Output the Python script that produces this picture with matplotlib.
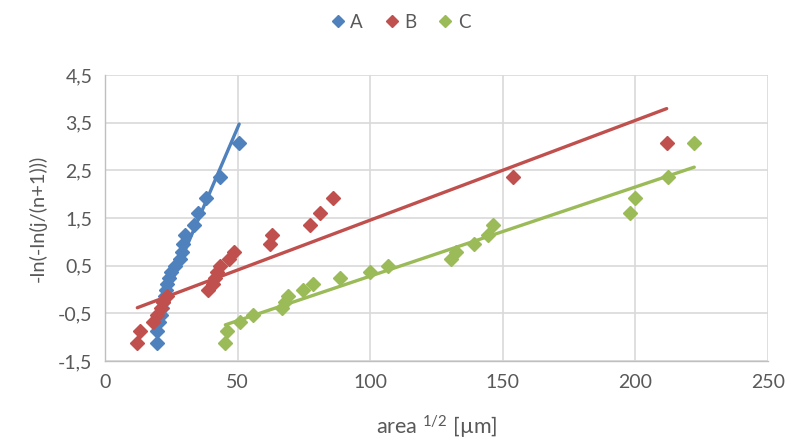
import matplotlib.pyplot as plt
import numpy as np

plt.rcParams["font.family"] = ["Lato", "DejaVu Sans"]
plt.rcParams["mathtext.fontset"] = "custom"
plt.rcParams["mathtext.rm"] = "Lato"
plt.rcParams["mathtext.it"] = "Lato"

# reduced variate -ln(-ln(j/(n+1))), same for all three series
y_vals = [-1.13, -0.87, -0.69, -0.53, -0.39, -0.26, -0.14, -0.01, 0.11, 0.24, 0.37,
          0.50, 0.64, 0.79, 0.96, 1.14, 1.36, 1.61, 1.92, 2.35, 3.07]

a_x = [19.5, 19.7, 20.3, 21.0, 21.5, 22.0, 22.5, 23.0, 23.5, 24.0, 25.0,
       26.5, 28.3, 29.0, 29.5, 30.3, 33.5, 35.0, 38.0, 43.3, 50.6]
b_x = [12.2, 13.2, 18.0, 19.8, 21.2, 22.0, 23.3, 39.0, 40.9, 41.5, 42.1,
       43.4, 46.8, 48.6, 62.2, 63.0, 77.3, 81.1, 86.1, 153.7, 211.8]
c_x = [45.4, 45.9, 50.9, 55.9, 66.6, 67.9, 69.1, 74.8, 78.5, 88.6, 100.0,
       106.8, 130.5, 132.5, 139.0, 144.4, 146.3, 198.0, 199.9, 212.2, 222.2]

series = [("A", a_x, "#4F81BD"), ("B", b_x, "#C0504D"), ("C", c_x, "#9BBB59")]

fig = plt.figure(figsize=(7.88, 4.44), dpi=100)
ax = fig.add_axes([0.1332, 0.1869, 0.8414, 0.6442])

y = np.array(y_vals)
for name, xs, color in series:
    xs = np.array(xs)
    ax.plot(xs, y, linestyle="none", marker="D", markersize=7.5, color=color,
            label=name, zorder=3)
    k, b = np.polyfit(xs, y, 1)
    xl = np.array([xs.min(), xs.max()])
    ax.plot(xl, k * xl + b, color=color, linewidth=2.4, zorder=2,
            solid_capstyle="round")

ax.set_xlim(0, 250)
ax.set_ylim(-1.5, 4.5)
ax.set_xticks(np.arange(0, 251, 50))
ax.set_yticks(np.arange(-1.5, 4.51, 1.0))
ax.set_yticklabels([f"{v:.1f}".replace(".", ",") for v in np.arange(-1.5, 4.51, 1.0)])
ax.grid(True, color="#d9d9d9", linewidth=1.2)
ax.set_axisbelow(True)
for s in ["top", "right"]:
    ax.spines[s].set_visible(False)
for s in ["left", "bottom"]:
    ax.spines[s].set_color("#bfbfbf")
    ax.spines[s].set_linewidth(1.0)
ax.tick_params(length=0, labelsize=14, colors="#595959", pad=9)

ax.set_xlabel("area $^{1/2}$ [\u00b5m]", fontsize=15.5, color="#595959", labelpad=16)
ax.set_ylabel("-ln(-ln(j/(n+1)))", fontsize=14.5, color="#595959", labelpad=8)

leg = fig.legend(loc="center", bbox_to_anchor=(0.505, 0.95), ncol=3, frameon=False,
                 fontsize=13.5, handletextpad=0.0, handlelength=1.3,
                 columnspacing=0.9, markerscale=0.85)
for t in leg.get_texts():
    t.set_color("#595959")

fig.savefig("out.png", dpi=100)
